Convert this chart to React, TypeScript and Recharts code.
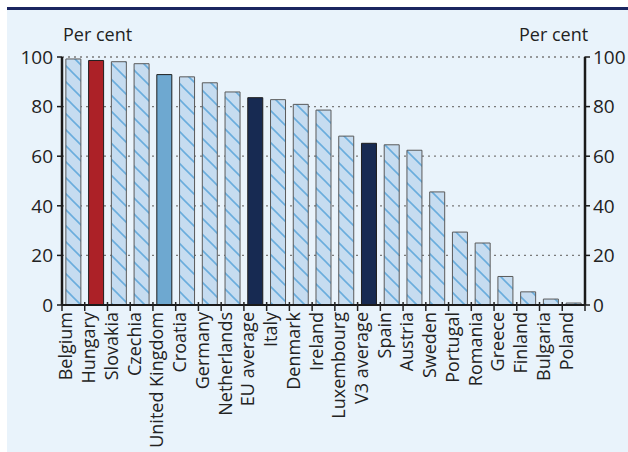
import React from "react";
import { ComposedChart, Bar, Line, XAxis, YAxis, CartesianGrid, Cell } from "recharts";

const countries = [
  "Belgium", "Hungary", "Slovakia", "Czechia", "United Kingdom", "Croatia", "Germany",
  "Netherlands", "EU average", "Italy", "Denmark", "Ireland", "Luxembourg", "V3 average",
  "Spain", "Austria", "Sweden", "Portugal", "Romania", "Greece", "Finland", "Bulgaria", "Poland",
];
const shares = [
  99.2, 98.6, 98.1, 97.3, 92.9, 92.0, 89.6, 85.9, 83.6, 82.8, 80.9, 78.6, 68.1, 65.2,
  64.6, 62.4, 45.6, 29.4, 25.0, 11.5, 5.3, 2.4, 0.8,
];
const yTicks = [0, 20, 40, 60, 80, 100];

const highlight: Record<string, string> = {
  Hungary: "#ac2127",
  "United Kingdom": "#6ea8d0",
  "EU average": "#172a52",
  "V3 average": "#172a52",
};

const data = countries.map((name, i) => ({ name, value: shares[i] }));

const W = 621;
const H = 445;
const LEFT_W = 55;
const RIGHT_W = 43;
const BAND = (W - LEFT_W - RIGHT_W) / countries.length;
const FONT = "'Open Sans', sans-serif";

function CountryTick(props: any) {
  const { x, y, payload, index } = props;
  const last = index === countries.length - 1;
  return (
    <g>
      <line x1={x - BAND / 2} x2={x - BAND / 2} y1={y - 3} y2={y + 6} stroke="#222" strokeWidth={1.5} />
      {last && <line x1={x + BAND / 2} x2={x + BAND / 2} y1={y - 3} y2={y + 6} stroke="#222" strokeWidth={1.5} />}
      <text
        x={x}
        y={y + 7}
        dy={-1}
        textAnchor="end"
        transform={`rotate(-90, ${x}, ${y + 7})`}
        fontSize={18}
        fill="#222"
        fontFamily={FONT}
      >
        {payload.value}
      </text>
    </g>
  );
}

export default function App() {
  return (
    <div style={{ position: "fixed", left: 7, top: 7, right: 0, bottom: 0, background: "#e9f3fb", fontFamily: FONT }}>
      <div style={{ position: "absolute", left: 0, top: 0, right: 0, height: 3, background: "#1b2660" }} />
      <span style={{ position: "absolute", left: 56, top: 17, fontSize: 18, lineHeight: "20px", color: "#222" }}>Per cent</span>
      <span style={{ position: "absolute", left: 512, top: 17, fontSize: 18, lineHeight: "20px", color: "#222" }}>Per cent</span>
      <div style={{ position: "absolute", left: 0, top: 0 }}>
        <ComposedChart width={W} height={H} data={data} margin={{ top: 50, right: 0, left: 0, bottom: 7 }} barCategoryGap="17%">
          <defs>
            <pattern id="hatch" patternUnits="userSpaceOnUse" width={16} height={16}>
              <rect width={16} height={16} fill="#c6dcf0" />
              <path d="M0,0 L16,16 M-4,12 L4,20 M12,-4 L20,4" stroke="#6aaddd" strokeWidth={1.6} />
            </pattern>
          </defs>
          <CartesianGrid vertical={false} stroke="#7a7a7a" strokeDasharray="2 4" strokeWidth={1.3} yAxisId="left" />
          <XAxis
            dataKey="name"
            interval={0}
            height={140}
            tickLine={false}
            tickSize={0}
            tickMargin={0}
            tick={<CountryTick />}
            axisLine={{ stroke: "#1a1a1a", strokeWidth: 2 }}
          />
          <YAxis
            yAxisId="left"
            domain={[0, 100]}
            ticks={yTicks}
            width={LEFT_W}
            tickSize={5}
            tickMargin={4}
            tickLine={{ stroke: "#1a1a1a", strokeWidth: 1.5 }}
            axisLine={{ stroke: "#1a1a1a", strokeWidth: 2.5 }}
            tick={{ fontSize: 19, fill: "#222", fontFamily: FONT }}
          />
          <YAxis
            yAxisId="right"
            orientation="right"
            domain={[0, 100]}
            ticks={yTicks}
            width={RIGHT_W}
            tickSize={5}
            tickMargin={3}
            tickLine={{ stroke: "#1a1a1a", strokeWidth: 1.5 }}
            axisLine={{ stroke: "#1a1a1a", strokeWidth: 2.5 }}
            tick={{ fontSize: 19, fill: "#222", fontFamily: FONT }}
          />
          <Bar dataKey="value" yAxisId="left" isAnimationActive={false}>
            {data.map((d) => (
              <Cell
                key={d.name}
                fill={highlight[d.name] ?? "url(#hatch)"}
                stroke={highlight[d.name] ? "#1e1e1e" : "#5a5a5a"}
                strokeWidth={1}
              />
            ))}
          </Bar>
          <Line dataKey="value" yAxisId="right" stroke="none" dot={false} activeDot={false} isAnimationActive={false} />
        </ComposedChart>
      </div>
    </div>
  );
}
